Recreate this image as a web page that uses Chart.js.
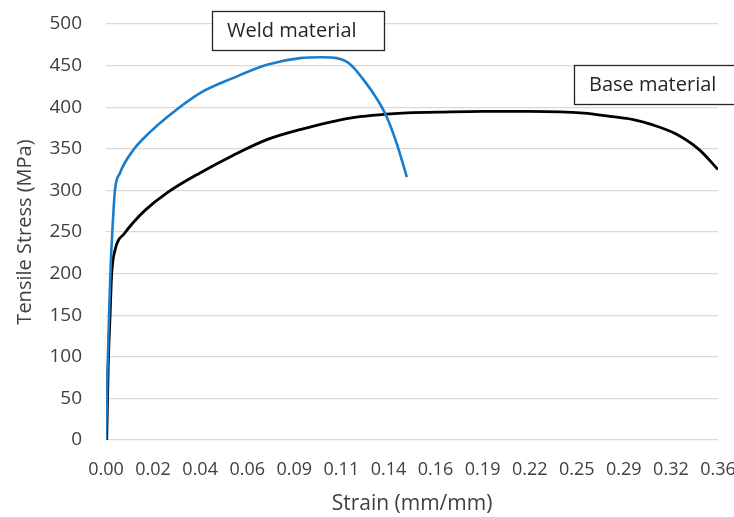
<!DOCTYPE html>
<html>
<head>
<meta charset="utf-8">
<script src="https://cdn.jsdelivr.net/npm/chart.js@4.4.1/dist/chart.umd.min.js"></script>
<style>
  html, body { margin: 0; padding: 0; background: #fff; }
  #wrap { width: 734px; height: 517px; }
</style>
</head>
<body>
<div id="wrap"><canvas id="stressChart"></canvas></div>
<script>
// category labels on the strain axis (Excel line chart, evenly spaced)
var strainLabels = ['0.00', '0.02', '0.04', '0.06', '0.09', '0.11', '0.14',
                    '0.16', '0.19', '0.22', '0.25', '0.29', '0.32', '0.36'];
var stressTicks = [0, 50, 100, 150, 200, 250, 300, 350, 400, 450, 500];

// weld material: position along the category axis and stress (MPa)
var weldPos    = [0, 0.03, 0.07, 0.1, 0.134, 0.19, 0.297, 0.573, 0.934, 1.295, 1.996, 2.696, 3.418, 4.119, 4.6, 4.9, 5.18, 5.456, 5.754, 5.966, 6.178, 6.39];
var weldStress = [0, 80, 160, 210, 250, 300, 321, 348, 370, 388, 417, 435, 451, 459, 460, 459, 452, 434, 410, 388, 356, 316];

// base material
var basePos    = [0.015, 0.047, 0.085, 0.121, 0.191, 0.403, 0.573, 0.828, 1.295, 1.996, 2.696, 3.418, 4.119, 5.18, 6.3, 7.05, 8.0, 9.0, 10.15, 10.7, 11.2, 11.6, 12.1, 12.6, 13.0];
var baseStress = [0, 88, 148, 200, 228, 249, 261, 276, 297, 321, 342, 361, 373, 387, 393, 394, 395, 395, 393, 389, 385, 379, 368, 349, 325];

// text boxes: label, left edge on the strain axis, top edge in MPa
var boxText  = ['Weld material', 'Base material'];
var boxLeft  = [2.25, 9.94];
var boxTop   = [516, 451];

function toPoints(xs, ys) {
  return xs.map(function(x, i) { return { x: x, y: ys[i] }; });
}

var textBoxes = {
  id: 'textBoxes',
  afterDraw: function(chart) {
    var c = chart.ctx;
    var xs = chart.scales.x, ys = chart.scales.y;
    c.save();
    c.font = '20px "Open Sans", sans-serif';
    c.textBaseline = 'middle';
    c.lineWidth = 1.3;
    c.strokeStyle = '#262626';
    for (var i = 0; i < boxText.length; i++) {
      var bx = Math.round(xs.getPixelForValue(boxLeft[i]));
      var by = Math.round(ys.getPixelForValue(boxTop[i]));
      var w = i === 0 ? 172 : 170, h = 39;
      c.fillStyle = '#fff';
      c.fillRect(bx, by, w, h);
      c.strokeRect(bx + 0.5, by + 0.5, w, h);
      c.fillStyle = '#262626';
      c.fillText(boxText[i], bx + 15, by + h / 2 + 1);
    }
    c.restore();
  }
};

var ctx = document.getElementById('stressChart').getContext('2d');
var myChart = new Chart(ctx, {
  type: 'line',
  data: {
    datasets: [{
      label: 'Weld material',
      data: toPoints(weldPos, weldStress),
      borderColor: '#1a7dcc',
      borderWidth: 2.6,
      pointRadius: 0,
      cubicInterpolationMode: 'monotone',
      fill: false
    }, {
      label: 'Base material',
      data: toPoints(basePos, baseStress),
      borderColor: '#000000',
      borderWidth: 2.8,
      pointRadius: 0,
      cubicInterpolationMode: 'monotone',
      fill: false
    }]
  },
  options: {
    responsive: true,
    maintainAspectRatio: false,
    animation: false,
    layout: { padding: { top: 24, right: 16, left: 0, bottom: 0 } },
    plugins: {
      legend: { display: false },
      tooltip: { enabled: false }
    },
    scales: {
      x: {
        type: 'linear',
        min: 0,
        max: strainLabels.length - 1,
        grid: { display: false },
        border: { display: false },
        ticks: {
          stepSize: 1,
          autoSkip: false,
          maxRotation: 0,
          color: '#404040',
          font: { family: '"Open Sans", sans-serif', size: 18 },
          padding: 11,
          callback: function(v) { return strainLabels[v]; }
        },
        title: {
          display: true,
          text: 'Strain (mm/mm)',
          color: '#404040',
          font: { family: '"Open Sans", sans-serif', size: 21 },
          padding: { top: 0, bottom: 0 }
        },
        afterFit: function(s) {
          s.height = 77;
          s.paddingLeft = 0;
          s.paddingRight = 0;
        }
      },
      y: {
        min: 0,
        max: 500,
        afterBuildTicks: function(s) {
          s.ticks = stressTicks.map(function(v) { return { value: v }; });
        },
        grid: { color: '#d9d9d9', lineWidth: 1.3, drawTicks: false },
        border: { display: false },
        ticks: {
          color: '#404040',
          font: { family: '"Open Sans", sans-serif', size: 19 },
          padding: 24
        },
        title: {
          display: true,
          text: 'Tensile Stress (MPa)',
          color: '#404040',
          font: { family: '"Open Sans", sans-serif', size: 20 },
          padding: { top: 13, bottom: 0 }
        },
        afterFit: function(s) {
          s.width = 106;
          s.paddingTop = 0;
          s.paddingBottom = 0;
        }
      }
    }
  },
  plugins: [textBoxes]
});
</script>
</body>
</html>
